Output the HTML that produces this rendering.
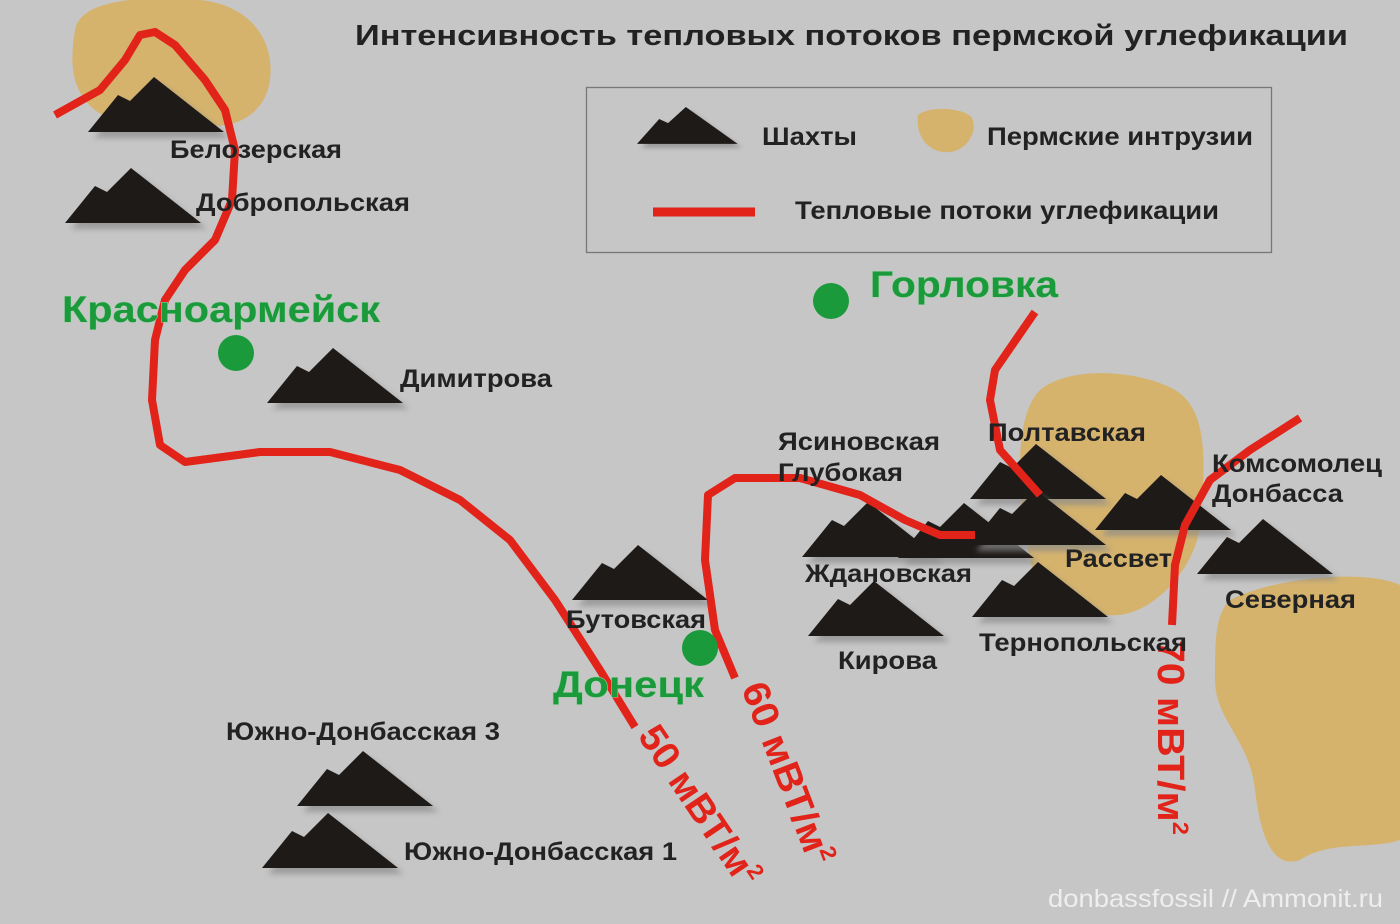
<!DOCTYPE html>
<html><head><meta charset="utf-8"><style>
html,body{margin:0;padding:0;background:#c6c6c6;}
svg{display:block;font-family:"Liberation Sans",sans-serif;}
</style></head><body>
<svg width="1400" height="924" viewBox="0 0 1400 924" xmlns="http://www.w3.org/2000/svg">
<defs>
<filter id="bl" x="-20%" y="-20%" width="140%" height="140%"><feGaussianBlur stdDeviation="3"/></filter>
<g id="m">
<polygon points="6,61 36,24 48,30 72,6 142,61" fill="#8a8a8a" filter="url(#bl)" opacity="0.7"/>
<polygon points="0,55 30,18 42,24 66,0 136,55" fill="#1e1a18"/>
</g>
</defs>
<rect width="1400" height="924" fill="#c6c6c6"/>
<path d="M75,30 C80,0 140,-5 200,0 C250,5 275,40 270,80 C265,115 235,130 200,125 C160,120 120,130 95,110 C70,90 70,60 75,30Z" fill="#d5b36d"/>
<path d="M1040,390 C1070,365 1140,370 1175,390 C1210,410 1205,470 1200,520 C1200,560 1160,610 1120,615 C1070,618 1040,600 1030,560 C1020,510 1010,420 1040,390Z" fill="#d5b36d"/>
<path d="M1230,600 C1280,575 1370,570 1400,585 L1400,840 C1370,850 1330,840 1300,860 C1270,870 1260,830 1255,790 C1250,740 1215,720 1215,680 C1215,640 1215,615 1230,600Z" fill="#d5b36d"/>
<path d="M918,115 C930,105 965,108 972,118 C978,130 968,150 950,152 C932,154 915,140 918,115Z" fill="#d5b36d"/>
<rect x="586.5" y="87.5" width="685" height="165" fill="none" stroke="#777" stroke-width="1.3"/>
<text x="355" y="45" font-size="29" font-weight="bold" fill="#222" textLength="993" lengthAdjust="spacingAndGlyphs">Интенсивность тепловых потоков пермской углефикации</text>
<use href="#m" transform="translate(637,107) scale(0.74,0.67)"/>
<g font-size="25" font-weight="bold" fill="#222">
<text x="762" y="145" textLength="95" lengthAdjust="spacingAndGlyphs">Шахты</text>
<text x="987" y="145" textLength="266" lengthAdjust="spacingAndGlyphs">Пермские интрузии</text>
<text x="795" y="219" textLength="424" lengthAdjust="spacingAndGlyphs">Тепловые потоки углефикации</text>
</g>
<line x1="653" y1="212" x2="755" y2="212" stroke="#e2231a" stroke-width="9"/>
<use href="#m" transform="translate(88,77)"/>
<use href="#m" transform="translate(65,168)"/>
<use href="#m" transform="translate(267,348)"/>
<use href="#m" transform="translate(572,545)"/>
<use href="#m" transform="translate(802,502)"/>
<use href="#m" transform="translate(898,503)"/>
<use href="#m" transform="translate(970,444)"/>
<use href="#m" transform="translate(970,490)"/>
<use href="#m" transform="translate(1095,475)"/>
<use href="#m" transform="translate(1197,519)"/>
<use href="#m" transform="translate(972,562)"/>
<use href="#m" transform="translate(808,581)"/>
<use href="#m" transform="translate(297,751)"/>
<use href="#m" transform="translate(262,813)"/>
<g fill="none" stroke="#e2231a" stroke-width="8" stroke-linejoin="round" stroke-linecap="butt">
<polyline points="55,115 100,90 125,60 140,35 155,32 175,45 205,80 225,110 235,150 232,200 215,240 185,270 165,300 155,340 152,400 160,445 185,462 260,452 330,452 400,470 460,500 510,540 555,600 600,670 635,727"/>
<polyline points="735,678 715,630 705,560 708,495 735,478 800,478 860,495 905,520 940,535 975,535"/>
<polyline points="1035,312 995,370 990,400 1000,450 1040,495"/>
<polyline points="1300,418 1250,450 1210,480 1185,525 1175,565 1172,625"/>
</g>
<g font-size="38" font-weight="bold" fill="#e2231a">
<text transform="translate(637,736) rotate(56)" textLength="185" lengthAdjust="spacingAndGlyphs">50 мВТ/м<tspan font-size="22" dy="-15">2</tspan></text>
<text transform="translate(741,688) rotate(69)" textLength="192" lengthAdjust="spacingAndGlyphs">60 мВТ/м<tspan font-size="22" dy="-15">2</tspan></text>
<text transform="translate(1158,640) rotate(90)" textLength="195" lengthAdjust="spacingAndGlyphs">70 мВТ/м<tspan font-size="22" dy="-15">2</tspan></text>
</g>
<g fill="#1a9a3a">
<circle cx="236" cy="353" r="18"/><circle cx="831" cy="301" r="18"/><circle cx="700" cy="648" r="18"/>
</g>
<g font-size="37" font-weight="bold" fill="#1a9a3a" stroke="#9fd0a8" stroke-width="1" paint-order="stroke">
<text x="62" y="322" textLength="318" lengthAdjust="spacingAndGlyphs">Красноармейск</text>
<text x="870" y="297" textLength="188" lengthAdjust="spacingAndGlyphs">Горловка</text>
<text x="553" y="697" textLength="151" lengthAdjust="spacingAndGlyphs">Донецк</text>
</g>
<g font-size="25" font-weight="bold" fill="#222">
<text x="170" y="158" textLength="172" lengthAdjust="spacingAndGlyphs">Белозерская</text>
<text x="196" y="211" textLength="214" lengthAdjust="spacingAndGlyphs">Добропольская</text>
<text x="400" y="387" textLength="152" lengthAdjust="spacingAndGlyphs">Димитрова</text>
<text x="778" y="450" textLength="162" lengthAdjust="spacingAndGlyphs">Ясиновская</text>
<text x="778" y="481" textLength="125" lengthAdjust="spacingAndGlyphs">Глубокая</text>
<text x="988" y="441" textLength="158" lengthAdjust="spacingAndGlyphs">Полтавская</text>
<text x="1212" y="472" textLength="170" lengthAdjust="spacingAndGlyphs">Комсомолец</text>
<text x="1212" y="502" textLength="131" lengthAdjust="spacingAndGlyphs">Донбасса</text>
<text x="1065" y="567" textLength="107" lengthAdjust="spacingAndGlyphs">Рассвет</text>
<text x="805" y="582" textLength="167" lengthAdjust="spacingAndGlyphs">Ждановская</text>
<text x="1225" y="608" textLength="131" lengthAdjust="spacingAndGlyphs">Северная</text>
<text x="979" y="651" textLength="208" lengthAdjust="spacingAndGlyphs">Тернопольская</text>
<text x="838" y="669" textLength="99" lengthAdjust="spacingAndGlyphs">Кирова</text>
<text x="566" y="628" textLength="140" lengthAdjust="spacingAndGlyphs">Бутовская</text>
<text x="226" y="740" textLength="274" lengthAdjust="spacingAndGlyphs">Южно-Донбасская 3</text>
<text x="404" y="860" textLength="273" lengthAdjust="spacingAndGlyphs">Южно-Донбасская 1</text>
</g>
<text x="1048" y="907" font-size="25" fill="#eeeeee" textLength="335" lengthAdjust="spacingAndGlyphs">donbassfossil // Ammonit.ru</text>
</svg>
</body></html>
